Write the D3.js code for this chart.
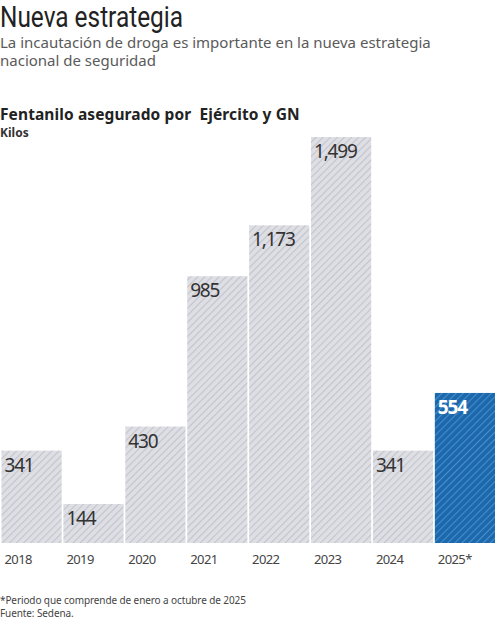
<!DOCTYPE html>
<html>
<head>
<meta charset="utf-8">
<script src="https://cdn.jsdelivr.net/npm/d3@7"></script>
<style>
  html, body { margin: 0; padding: 0; background: #fff; }
  svg { display: block; }
</style>
</head>
<body>
<svg width="495" height="620"></svg>
<script>
// data
const years = ["2018", "2019", "2020", "2021", "2022", "2023", "2024", "2025*"];
const kilos = [341, 144, 430, 985, 1173, 1499, 341, 554];
const valueLabels = ["341", "144", "430", "985", "1,173", "1,499", "341", "554"];
const highlight = "2025*";

const svg = d3.select("svg");

const x = d3.scaleBand()
    .domain(years)
    .range([1.5, 495])
    .paddingInner(0.028)
    .paddingOuter(0);

const y = d3.scaleLinear()
    .domain([0, 1499])
    .range([543, 137]);

// hatch patterns
const defs = svg.append("defs");
function hatch(id, bg, line) {
  const p = defs.append("pattern")
      .attr("id", id)
      .attr("patternUnits", "userSpaceOnUse")
      .attr("width", 5)
      .attr("height", 5)
      .attr("patternTransform", "rotate(45)");
  p.append("rect").attr("width", 5).attr("height", 5).attr("fill", bg);
  p.append("line")
      .attr("x1", 0).attr("y1", 0).attr("x2", 0).attr("y2", 5)
      .attr("stroke", line)
      .attr("stroke-width", 2.2);
}
hatch("hatch-grey", "#dedee5", "#c3c3cb");
hatch("hatch-blue", "#1b68ad", "#4a8dc9");

// titles
svg.append("text")
    .attr("x", 0).attr("y", 27)
    .attr("font-family", "Roboto, 'Noto Sans', sans-serif")
    .attr("font-size", 29)
    .attr("textLength", 183)
    .attr("lengthAdjust", "spacingAndGlyphs")
    .attr("fill", "#222")
    .text("Nueva estrategia");

const sub = svg.append("text")
    .attr("font-family", "'Noto Sans', sans-serif")
    .attr("font-size", 15)
    .attr("fill", "#5a5a5a");
sub.append("tspan").attr("x", 0).attr("y", 48)
    .text("La incautación de droga es importante en la nueva estrategia");
sub.append("tspan").attr("x", 0).attr("y", 66)
    .text("nacional de seguridad");

svg.append("text")
    .attr("x", 0).attr("y", 120)
    .attr("font-family", "'Noto Sans', sans-serif")
    .attr("font-size", 15.5)
    .attr("font-weight", "bold")
    .attr("letter-spacing", 0.1)
    .attr("fill", "#222")
    .style("white-space", "pre")
    .text("Fentanilo asegurado por  Ejército y GN");

svg.append("text")
    .attr("x", 0).attr("y", 137)
    .attr("font-family", "'Noto Sans', sans-serif")
    .attr("font-size", 12)
    .attr("font-weight", "bold")
    .attr("fill", "#333")
    .text("Kilos");

// bars
const bars = svg.append("g")
    .selectAll("g")
    .data(years.map((d, i) => ({ year: d, value: kilos[i], label: valueLabels[i] })))
    .enter()
    .append("g");

bars.append("rect")
    .attr("x", d => x(d.year))
    .attr("y", d => y(d.value))
    .attr("width", x.bandwidth())
    .attr("height", d => y(0) - y(d.value))
    .attr("fill", d => d.year === highlight ? "url(#hatch-blue)" : "url(#hatch-grey)");

bars.append("text")
    .attr("x", d => x(d.year) + 3)
    .attr("y", d => y(d.value) + 21)
    .attr("font-family", "'Noto Sans', sans-serif")
    .attr("font-size", 19)
    .attr("font-weight", d => d.year === highlight ? "bold" : "normal")
    .attr("letter-spacing", -1.2)
    .attr("fill", d => d.year === highlight ? "#fff" : "#333")
    .text(d => d.label);

// year axis labels
svg.append("g")
    .selectAll("text")
    .data(years)
    .enter()
    .append("text")
    .attr("x", d => x(d) + 3)
    .attr("y", 564)
    .attr("font-family", "'Noto Sans', sans-serif")
    .attr("font-size", 13)
    .attr("letter-spacing", -0.6)
    .attr("fill", "#444")
    .text(d => d);

// footnotes
const foot = svg.append("text")
    .attr("font-family", "'Noto Sans', sans-serif")
    .attr("font-size", 10)
    .attr("letter-spacing", -0.1)
    .attr("fill", "#444");
foot.append("tspan").attr("x", 0).attr("y", 604)
    .text("*Periodo que comprende de enero a octubre de 2025");
foot.append("tspan").attr("x", 0).attr("y", 617)
    .text("Fuente: Sedena.");
</script>
</body>
</html>
